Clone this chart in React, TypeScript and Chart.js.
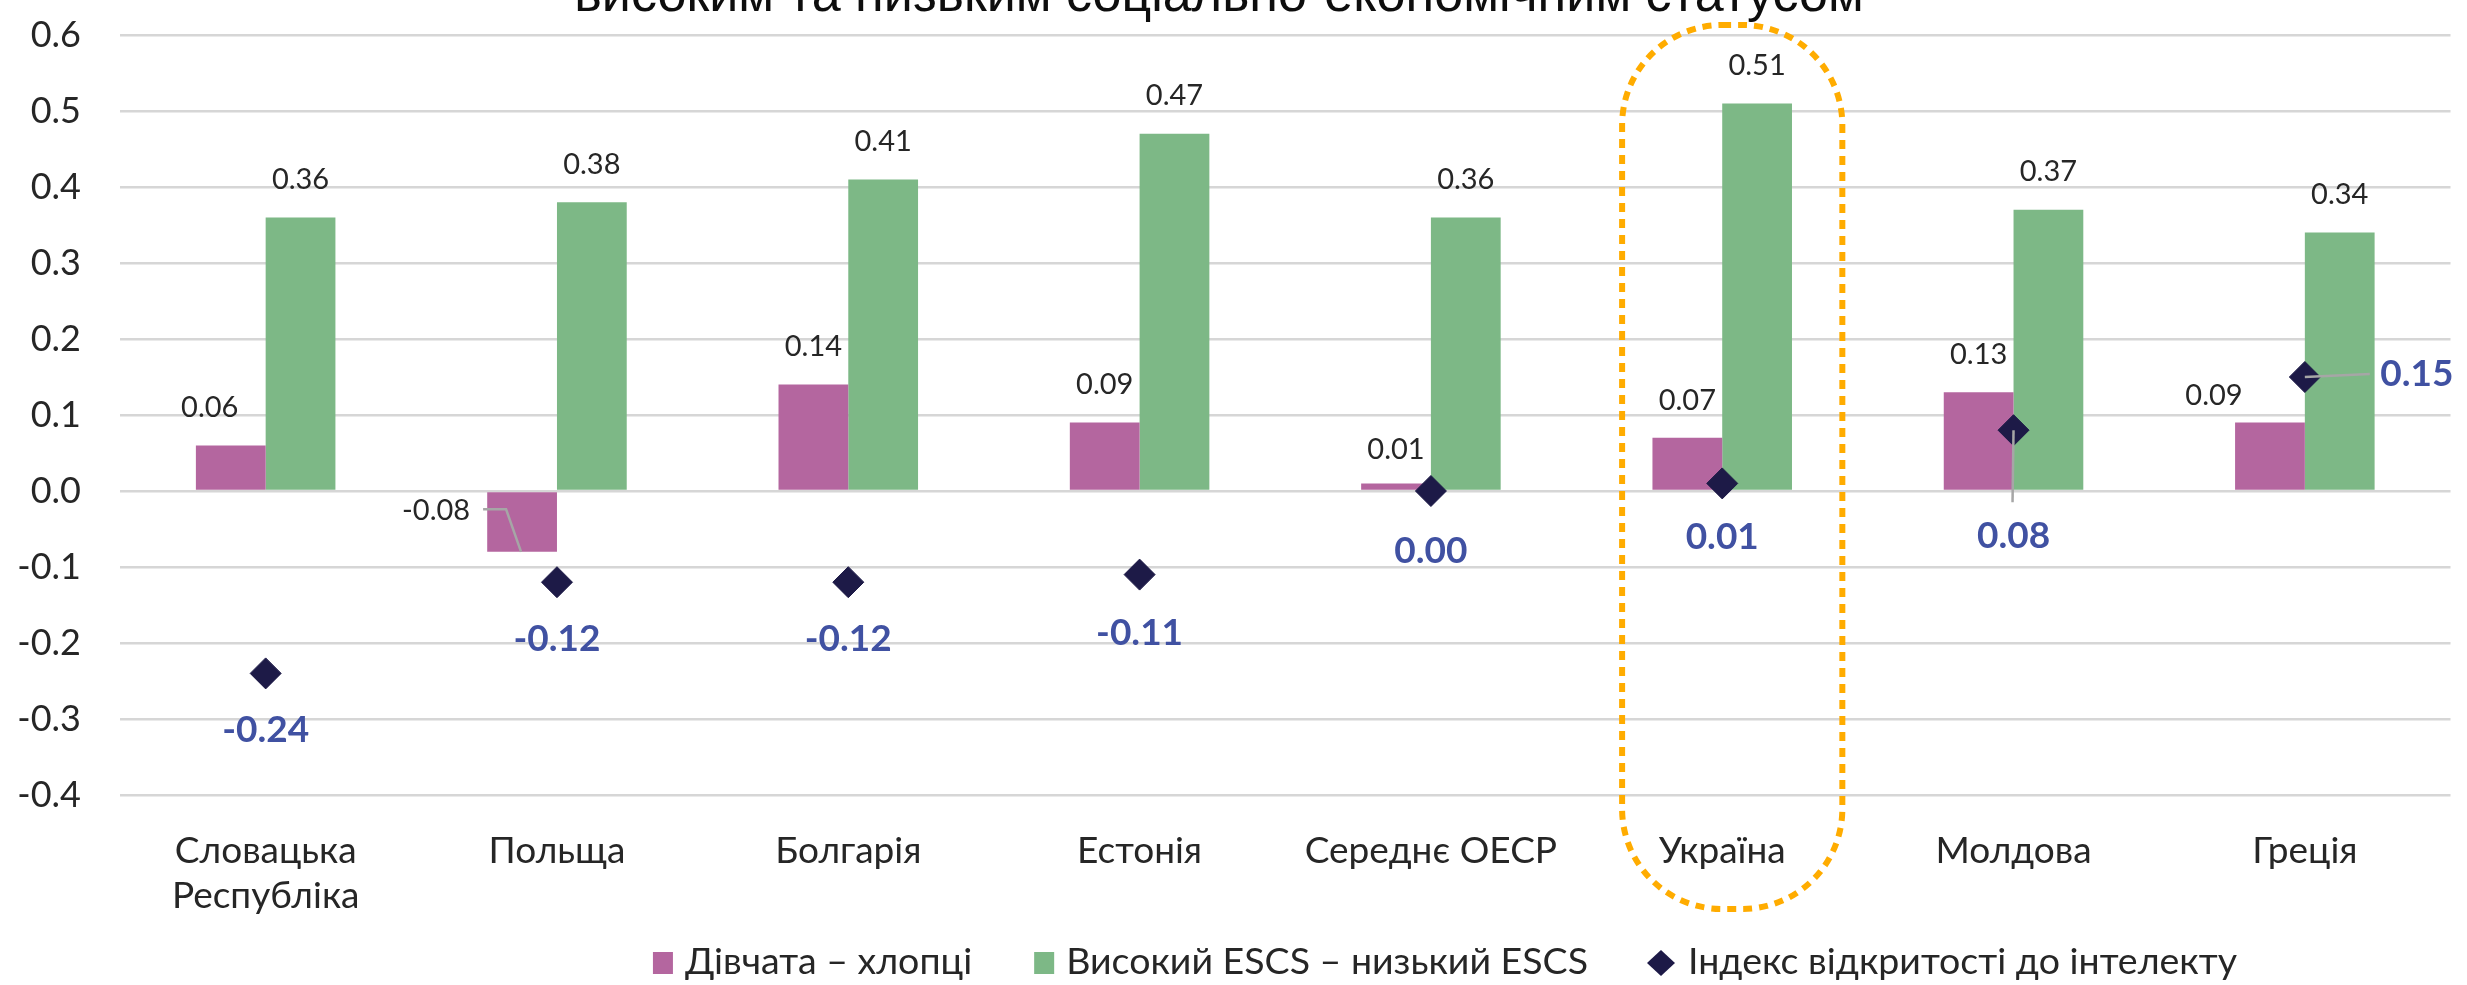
import { useEffect, useRef } from 'react';
import { Chart, registerables } from 'chart.js';

Chart.register(...registerables);

// ---- data ----
const categories: (string | string[])[] = [
  ['Словацька', 'Республіка'],
  'Польща',
  'Болгарія',
  'Естонія',
  'Середнє ОЕСР',
  'Україна',
  'Молдова',
  'Греція',
];
const highlightCategory = 'Україна';

const girlsBoys = [0.06, -0.08, 0.14, 0.09, 0.01, 0.07, 0.13, 0.09];
const escsDiff = [0.36, 0.38, 0.41, 0.47, 0.36, 0.51, 0.37, 0.34];
const opennessIndex = [-0.24, -0.12, -0.12, -0.11, 0.0, 0.01, 0.08, 0.15];

const seriesNames = ['Дівчата – хлопці', 'Високий ESCS – низький ESCS', 'Індекс відкритості до інтелекту'];
const titleText = 'високим та низьким соціально-економічним статусом';

const yMin = -0.4;
const yMax = 0.6;
const yStep = 0.1;

// ---- styles ----
const PINK = '#B4669F';
const GREEN = '#7DB886';
const NAVY = '#1D1A47';
const BLUE = '#4051A2';
const TEXT = '#262626';
const GRID = '#D6D6D6';
const ORANGE = '#FFAC00';
const LEADER = '#A6A6A6';

// label placement tweaks (dx, dy) relative to default label anchor
const girlsLabelShift = [[-21, 0], [-86, 56], [0, 0], [0, 0], [0, 4], [0, 1], [0, 0], [-56, 11]];
const escsLabelShift = [[0, 0], [0, 0], [0, 0], [0, 0], [0, 0], [0, 0], [0, 0], [0, 0]];
const opennessLabelShift = [[0, 0], [0, 0], [0, 0], [0, 1], [0, 3], [0, -3], [0, 49], [112, -60]];

type Pt = [string, number, number];
const leaders: { ds: number; idx: number; pts: Pt[] }[] = [
  { ds: 0, idx: 1, pts: [['label', 47, -1], ['label', 70, -1], ['el', -1, 0]] },
  { ds: 2, idx: 6, pts: [['el', 0, 0], ['label', -1, -34]] },
  { ds: 2, idx: 7, pts: [['el', 0, 0], ['label', -47, 0]] },
];

const fmt2 = (v: number) => (Math.abs(v) < 1e-9 ? 0 : v).toFixed(2);

const labelPlugin = {
  id: 'valueLabels',
  afterDatasetsDraw(chart: any) {
    const ctx = chart.ctx as CanvasRenderingContext2D;
    const specs = [
      { ds: 0, shift: girlsLabelShift, font: '29px Lato', color: TEXT, isBar: true },
      { ds: 1, shift: escsLabelShift, font: '29px Lato', color: TEXT, isBar: true },
      { ds: 2, shift: opennessLabelShift, font: 'bold 37px Lato', color: BLUE, isBar: false },
    ];
    const labelPos: Record<string, { x: number; y: number }> = {};
    const elPos: Record<string, { x: number; y: number }> = {};
    specs.forEach((s) => {
      const meta = chart.getDatasetMeta(s.ds);
      meta.data.forEach((el: any, i: number) => {
        const p = el.getProps(['x', 'y', 'base'], true);
        let ax = p.x;
        let ay: number;
        if (s.isBar) {
          ay = Math.min(p.y, p.base) - 38;
        } else {
          ay = p.y + 57;
        }
        ax += s.shift[i][0];
        ay += s.shift[i][1];
        labelPos[`${s.ds}-${i}`] = { x: ax, y: ay };
        elPos[`${s.ds}-${i}`] = { x: p.x, y: p.y };
      });
    });
    // leader lines
    ctx.save();
    ctx.strokeStyle = LEADER;
    ctx.lineWidth = 2.5;
    leaders.forEach((l) => {
      const lp = labelPos[`${l.ds}-${l.idx}`];
      const ep = elPos[`${l.ds}-${l.idx}`];
      ctx.beginPath();
      l.pts.forEach((pt, k) => {
        const base = pt[0] === 'label' ? lp : ep;
        const x = base.x + pt[1];
        const y = base.y + pt[2];
        if (k === 0) ctx.moveTo(x, y);
        else ctx.lineTo(x, y);
      });
      ctx.stroke();
    });
    ctx.restore();
    // labels
    ctx.save();
    ctx.textAlign = 'center';
    ctx.textBaseline = 'middle';
    specs.forEach((s) => {
      const data = chart.data.datasets[s.ds].data as number[];
      ctx.font = s.font;
      ctx.fillStyle = s.color;
      data.forEach((v, i) => {
        const lp = labelPos[`${s.ds}-${i}`];
        ctx.fillText(fmt2(v), lp.x, lp.y);
      });
    });
    ctx.restore();
  },
};

const framePlugin = {
  id: 'highlightFrame',
  afterDraw(chart: any) {
    const idx = categories.findIndex((c) => c === highlightCategory);
    if (idx < 0) return;
    const xs = chart.scales.x;
    const ys = chart.scales.y;
    const ctx = chart.ctx as CanvasRenderingContext2D;
    const catW = xs.width / categories.length;
    const cx = xs.getPixelForValue(idx) + 10;
    const half = catW * 0.378;
    const top = ys.getPixelForValue(yMax) - 10;
    const bottom = chart.chartArea.bottom + 114;
    ctx.save();
    ctx.strokeStyle = ORANGE;
    ctx.lineWidth = 6;
    ctx.setLineDash([9, 7]);
    ctx.beginPath();
    (ctx as any).roundRect(cx - half, top, half * 2, bottom - top, 100);
    ctx.stroke();
    ctx.restore();
  },
};

const titlePlugin = {
  id: 'clippedTitle',
  afterDraw(chart: any) {
    const ctx = chart.ctx as CanvasRenderingContext2D;
    ctx.save();
    ctx.font = '100px "Liberation Sans"';
    const w = ctx.measureText(titleText).width;
    const size = (100 * 1290) / w;
    ctx.font = `${size}px "Liberation Sans"`;
    ctx.fillStyle = '#0D0D0D';
    ctx.textAlign = 'center';
    ctx.textBaseline = 'alphabetic';
    ctx.fillText(titleText, 1219, 11);
    ctx.restore();
  },
};

const legendPlugin = {
  id: 'customLegend',
  afterDraw(chart: any) {
    const ctx = chart.ctx as CanvasRenderingContext2D;
    ctx.save();
    ctx.font = '37.5px Lato';
    ctx.textBaseline = 'middle';
    ctx.textAlign = 'left';
    const marker = 22;
    const gapText = 10;
    const gapItem = 62;
    const widths = seriesNames.map((n) => ctx.measureText(n).width);
    const total = widths.reduce((a, b) => a + b, 0) + seriesNames.length * (marker + gapText) + gapItem * (seriesNames.length - 1) + 6;
    let x = 1445 - total / 2;
    const cy = 962;
    const colors = [PINK, GREEN, NAVY];
    seriesNames.forEach((n, i) => {
      ctx.fillStyle = colors[i];
      if (i < 2) {
        ctx.fillRect(x, cy - 10, 20, 22);
      } else {
        ctx.beginPath();
        ctx.moveTo(x + 11, cy - 12);
        ctx.lineTo(x + 25, cy + 1);
        ctx.lineTo(x + 11, cy + 14);
        ctx.lineTo(x - 3, cy + 1);
        ctx.closePath();
        ctx.fill();
        x += 6;
      }
      ctx.fillStyle = TEXT;
      ctx.fillText(n, x + marker + gapText, cy);
      x += marker + gapText + widths[i] + gapItem;
    });
    ctx.restore();
  },
};

export default function App() {
  const ref = useRef<HTMLCanvasElement | null>(null);
  useEffect(() => {
    if (!ref.current) return;
    const chart = new Chart(ref.current, {
      type: 'bar',
      data: {
        labels: categories as any,
        datasets: [
          {
            type: 'bar',
            label: seriesNames[0],
            data: girlsBoys,
            backgroundColor: PINK,
            borderWidth: 0,
            categoryPercentage: 0.479,
            barPercentage: 1,
            order: 2,
          },
          {
            type: 'bar',
            label: seriesNames[1],
            data: escsDiff,
            backgroundColor: GREEN,
            borderWidth: 0,
            categoryPercentage: 0.479,
            barPercentage: 1,
            order: 2,
          },
          {
            type: 'line',
            label: seriesNames[2],
            data: opennessIndex,
            showLine: false,
            pointStyle: 'rectRot',
            pointRadius: 15.5,
            pointHoverRadius: 15.5,
            pointBackgroundColor: NAVY,
            pointBorderColor: NAVY,
            pointBorderWidth: 1,
            order: 1,
          } as any,
        ],
      },
      options: {
        animation: false,
        responsive: false,
        maintainAspectRatio: false,
        layout: { padding: { top: 35, right: 8, left: 0, bottom: 0 } },
        plugins: {
          legend: { display: false },
          title: { display: false },
          tooltip: { enabled: false },
        },
        scales: {
          x: {
            grid: { display: false },
            border: { display: false },
            ticks: {
              font: { family: 'Lato', size: 37, lineHeight: 1.2 },
              color: TEXT,
              padding: 26,
              maxRotation: 0,
              autoSkip: false,
            },
            afterFit: (scale: any) => {
              scale.height = 190;
            },
          },
          y: {
            min: yMin,
            max: yMax,
            grid: { color: GRID, lineWidth: 2.5, drawTicks: false },
            border: { display: false },
            ticks: {
              stepSize: yStep,
              font: { family: 'Lato', size: 36 },
              color: TEXT,
              padding: 39,
              callback: (v: any) => (Math.abs(Number(v)) < 1e-9 ? 0 : Number(v)).toFixed(1),
            },
            afterFit: (scale: any) => {
              scale.width = 120;
              scale.paddingTop = 0;
              scale.paddingBottom = 0;
            },
          },
        },
      },
      plugins: [labelPlugin, framePlugin, titlePlugin, legendPlugin],
    });
    return () => chart.destroy();
  }, []);

  return (
    <div style={{ position: 'absolute', left: 0, top: 0, width: 2467, height: 985, background: '#fff' }}>
      <canvas ref={ref} width={2467} height={985} style={{ width: 2467, height: 985, display: 'block' }} />
    </div>
  );
}
